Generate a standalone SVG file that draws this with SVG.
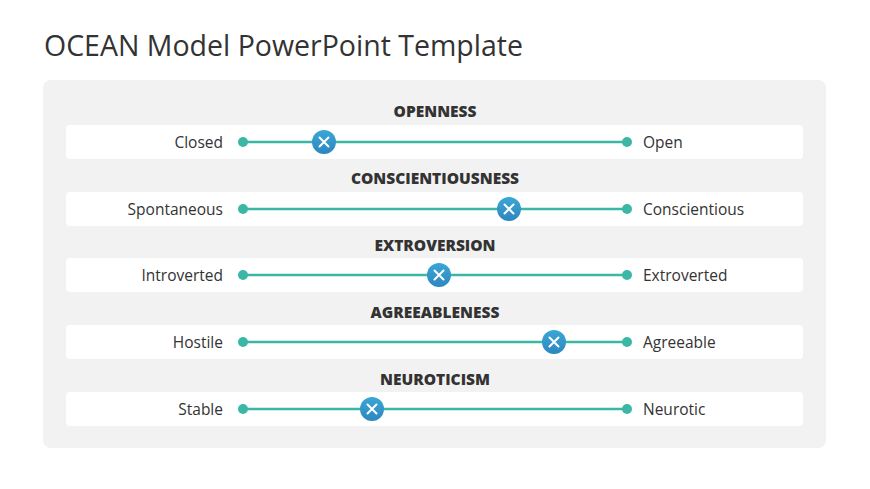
<svg xmlns="http://www.w3.org/2000/svg" width="870" height="489" viewBox="0 0 870 489">
<defs>
<style>
.bar{fill:#fff}
.ttl{font-family:"Open Sans","Liberation Sans",sans-serif;font-weight:800;font-size:15.5px;fill:#333;text-anchor:middle}
.lbl{font-family:"Open Sans","Liberation Sans",sans-serif;font-size:15.5px;fill:#333}
.ln{stroke:#3bb8a5;stroke-width:2.5}
.dot{fill:#3bb8a5}
.knob{fill:url(#kg)}
.x{stroke:#fff;stroke-width:2;stroke-linecap:round}
</style>
<linearGradient id="kg" x1="0" y1="0" x2="0" y2="1"><stop offset="0" stop-color="#3aa7d6"/><stop offset="1" stop-color="#2f86bf"/></linearGradient>
<g id="k"><circle r="12" class="knob"/><path class="x" d="M-4.5,-4.5L4.5,4.5M4.5,-4.5L-4.5,4.5"/></g>
</defs>
<rect width="870" height="489" fill="#fff"/>
<text x="44" y="56" font-family="Open Sans,Liberation Sans,sans-serif" font-size="28.5" fill="#333">OCEAN Model PowerPoint Template</text>
<rect x="43" y="80" width="783" height="368" rx="8" fill="#f2f2f2"/>
<g id="openness"><rect class="bar" x="66" y="125" width="737" height="34" rx="4"/><text class="ttl" x="435" y="117">OPENNESS</text><text class="lbl" x="223" y="148" text-anchor="end">Closed</text><text class="lbl" x="643" y="148">Open</text></g>
<g id="conscientiousness"><rect class="bar" x="66" y="192" width="737" height="34" rx="4"/><text class="ttl" x="435" y="184">CONSCIENTIOUSNESS</text><text class="lbl" x="223" y="215" text-anchor="end">Spontaneous</text><text class="lbl" x="643" y="215">Conscientious</text></g>
<g id="extroversion"><rect class="bar" x="66" y="258" width="737" height="34" rx="4"/><text class="ttl" x="435" y="251">EXTROVERSION</text><text class="lbl" x="223" y="281" text-anchor="end">Introverted</text><text class="lbl" x="643" y="281">Extroverted</text></g>
<g id="agreeableness"><rect class="bar" x="66" y="325" width="737" height="34" rx="4"/><text class="ttl" x="435" y="318">AGREEABLENESS</text><text class="lbl" x="223" y="348" text-anchor="end">Hostile</text><text class="lbl" x="643" y="348">Agreeable</text></g>
<g id="neuroticism"><rect class="bar" x="66" y="392" width="737" height="34" rx="4"/><text class="ttl" x="435" y="385">NEUROTICISM</text><text class="lbl" x="223" y="415" text-anchor="end">Stable</text><text class="lbl" x="643" y="415">Neurotic</text></g>
<g id="connectors">
<line class="ln" x1="243" y1="142" x2="627" y2="142"/>
<line class="ln" x1="243" y1="209" x2="627" y2="209"/>
<line class="ln" x1="243" y1="275" x2="627" y2="275"/>
<line class="ln" x1="243" y1="342" x2="627" y2="342"/>
<line class="ln" x1="243" y1="409" x2="627" y2="409"/>
</g>
<g id="markers">
<circle class="dot" cx="243" cy="142" r="5"/><circle class="dot" cx="627" cy="142" r="5"/><use href="#k" x="324" y="142"/>
<circle class="dot" cx="243" cy="209" r="5"/><circle class="dot" cx="627" cy="209" r="5"/><use href="#k" x="509" y="209"/>
<circle class="dot" cx="243" cy="275" r="5"/><circle class="dot" cx="627" cy="275" r="5"/><use href="#k" x="439" y="275"/>
<circle class="dot" cx="243" cy="342" r="5"/><circle class="dot" cx="627" cy="342" r="5"/><use href="#k" x="554" y="342"/>
<circle class="dot" cx="243" cy="409" r="5"/><circle class="dot" cx="627" cy="409" r="5"/><use href="#k" x="372" y="409"/>
</g>
</svg>
